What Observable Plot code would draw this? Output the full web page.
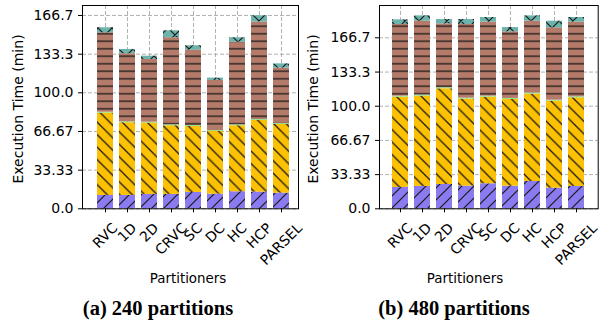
<!DOCTYPE html>
<html><head><meta charset="utf-8">
<script src="https://cdn.jsdelivr.net/npm/d3@7"></script>
<script src="https://cdn.jsdelivr.net/npm/@observablehq/plot@0.6"></script>
<style>
body{margin:0;background:#fff;}
#wrap{position:relative;width:599px;height:329px;overflow:hidden;font-family:"DejaVu Sans";color:#000;}
.panel{position:absolute;top:0;}
.ylab{position:absolute;font-size:14px;white-space:nowrap;transform:translate(-50%,-50%) rotate(-90deg);}
.xlab{position:absolute;font-size:13.4px;white-space:nowrap;transform:translate(-50%,-50%);}
.cap{position:absolute;font-family:"Liberation Serif";font-weight:bold;font-size:20.5px;white-space:nowrap;transform:translate(-50%,-50%);}
</style></head><body>
<svg width="0" height="0" style="position:absolute">
<defs>
<pattern id="hp" patternUnits="userSpaceOnUse" width="12" height="12">
 <rect width="12" height="12" fill="#8a7bf0"/>
 <path d="M0,12L12,0M-3,3L3,-3M9,15L15,9" stroke="#1a1a1a" stroke-width="1.2"/>
</pattern>
<pattern id="hy" patternUnits="userSpaceOnUse" width="12.5" height="12.5">
 <rect width="12.5" height="12.5" fill="#fdc104"/>
 <path d="M0,0L12.5,12.5M-3,9.5L3,15.5M9.5,-3L15.5,3" stroke="#1a1a1a" stroke-width="1.3"/>
</pattern>
<pattern id="hg" patternUnits="userSpaceOnUse" width="12" height="12">
 <rect width="12" height="12" fill="#8fe38a"/>
</pattern>
<pattern id="hb" patternUnits="userSpaceOnUse" width="12" height="7.5">
 <rect width="12" height="7.5" fill="#b47a6a"/>
 <path d="M0,3.75H12" stroke="#1a1a1a" stroke-width="1.3"/>
</pattern>
<pattern id="ht" patternUnits="userSpaceOnUse" width="14" height="14">
 <rect width="14" height="14" fill="#6cb3ac"/>
 <path d="M0,0L14,14M-3,11L3,17M11,-3L17,3M0,14L14,0M-3,3L3,-3M11,17L17,11" stroke="#1a1a1a" stroke-width="1.2"/>
</pattern>
</defs></svg>
<div id="wrap"></div>
<script>
// ---- data ----
const partitioners = ["RVC","1D","2D","CRVC","SC","DC","HC","HCP","PARSEL"];
const phases = ["Phase 1","Phase 2","Phase 3","Phase 4","Phase 5"];
const phasePatterns = ["url(#hp)","url(#hy)","url(#hg)","url(#hb)","url(#ht)"];
const yTicks = [0, 33.33, 66.67, 100, 133.3, 166.7];
const yTickLabels = ["0.0","33.33","66.67","100.0","133.3","166.7"];

// 240 partitions (minutes)
const p240_phase1 = [11.5, 11.5, 12.4, 12.4, 14.1, 12.6, 14.7, 14.4, 13.5];
const p240_phase2 = [71.0, 62.7, 61.5, 59.2, 56.9, 54.1, 56.9, 61.8, 59.2];
const p240_phase3 = [0.8, 0.8, 0.8, 0.8, 0.8, 0.8, 0.8, 0.8, 0.8];
const p240_phase4 = [68.5, 58.7, 54.1, 75.1, 65.0, 43.2, 71.3, 84.0, 47.8];
const p240_phase5 = [4.3, 3.7, 2.8, 6.0, 3.8, 2.0, 3.8, 5.4, 3.7];

// 480 partitions (minutes)
const p480_phase1 = [20.8, 21.8, 23.7, 22.1, 24.4, 22.1, 26.6, 20.1, 21.8];
const p480_phase2 = [88.0, 88.0, 93.3, 84.8, 84.4, 84.5, 85.2, 84.8, 86.4];
const p480_phase3 = [1.0, 1.0, 1.0, 1.0, 1.0, 1.0, 1.0, 1.0, 1.0];
const p480_phase4 = [69.9, 72.1, 62.3, 71.8, 72.1, 64.9, 70.1, 70.5, 72.7];
const p480_phase5 = [4.5, 5.2, 4.2, 4.8, 4.6, 4.2, 5.2, 6.5, 4.6];

const wrap = document.getElementById("wrap");
const tickFont = 14;

function makePanel(series, cfg) {
  const rows = [];
  partitioners.forEach((p, i) => series.forEach((s, j) => rows.push({p, phase: phases[j], v: s[i], fill: phasePatterns[j]})));
  const H = 329, bottom = 208.3;
  const plot = Plot.plot({
    width: cfg.width, height: H,
    marginLeft: cfg.ml, marginRight: cfg.mr, marginTop: 5, marginBottom: H - bottom,
    x: {domain: partitioners, range: cfg.xr, paddingInner: 0.28, paddingOuter: 0.14, align: 0.5},
    y: {domain: [0, cfg.ymax]},
    color: {type: "identity"},
    style: {fontFamily: "DejaVu Sans", fontSize: tickFont + "px", color: "#000", background: "transparent", overflow: "visible"},
    marks: [
      Plot.gridY(yTicks, {stroke: "#a8a8a8", strokeOpacity: 1, strokeDasharray: "4,2", strokeWidth: 0.9}),
      Plot.gridX(partitioners, {stroke: "#a8a8a8", strokeOpacity: 1, strokeDasharray: "4,2", strokeWidth: 0.9}),
      Plot.barY(rows, {x: "p", y: "v", fill: "fill", z: "phase", inset: 0}),
      Plot.frame({stroke: "#000", strokeWidth: 1}),
      Plot.axisY(yTicks, {tickSize: 4, tickPadding: 5, tickFormat: d => yTickLabels[yTicks.indexOf(d)], label: null}),
      Plot.axisX({tickSize: 4, tickRotate: -45, label: null})
    ]
  });
  plot.classList.add("panel");
  plot.style.left = cfg.left + "px";
  wrap.appendChild(plot);
  // matplotlib-style rotated labels: bbox centered under tick, top aligned
  const xs = plot.scale("x");
  const yTop = 220.5;
  plot.querySelectorAll('g[aria-label="x-axis tick label"]').forEach(g => {
    g.removeAttribute("transform");
    g.setAttribute("text-anchor", "middle");
    g.querySelectorAll("text").forEach(t => {
      const label = t.textContent;
      const cx = xs.apply(label) + xs.bandwidth / 2;
      const w = t.getComputedTextLength();
      const Hb = (w + tickFont) * Math.SQRT1_2;
      t.setAttribute("text-anchor", "middle");
      t.removeAttribute("y"); t.removeAttribute("x");
      t.setAttribute("dy", "0.35em");
      t.setAttribute("transform", `translate(${cx},${yTop + Hb / 2}) rotate(-45)`);
    });
  });
  return plot;
}

makePanel([p240_phase1, p240_phase2, p240_phase3, p240_phase4, p240_phase5],
  {left: 0, width: 300, ml: 82, mr: 2, xr: [89.2, 296], ymax: 175.3});
makePanel([p480_phase1, p480_phase2, p480_phase3, p480_phase4, p480_phase5],
  {left: 300, width: 299, ml: 79, mr: 1.3, xr: [85.25, 291.45], ymax: 198.2});

function addDiv(cls, text, x, y) {
  const d = document.createElement("div");
  d.className = cls; d.textContent = text;
  d.style.left = x + "px"; d.style.top = y + "px";
  wrap.appendChild(d);
}
addDiv("ylab", "Execution Time (min)", 18, 109);
addDiv("ylab", "Execution Time (min)", 313, 109);
addDiv("xlab", "Partitioners", 188, 278);
addDiv("xlab", "Partitioners", 465, 278);
addDiv("cap", "(a) 240 partitions", 158, 308);
addDiv("cap", "(b) 480 partitions", 454, 308);
</script>
</body></html>
